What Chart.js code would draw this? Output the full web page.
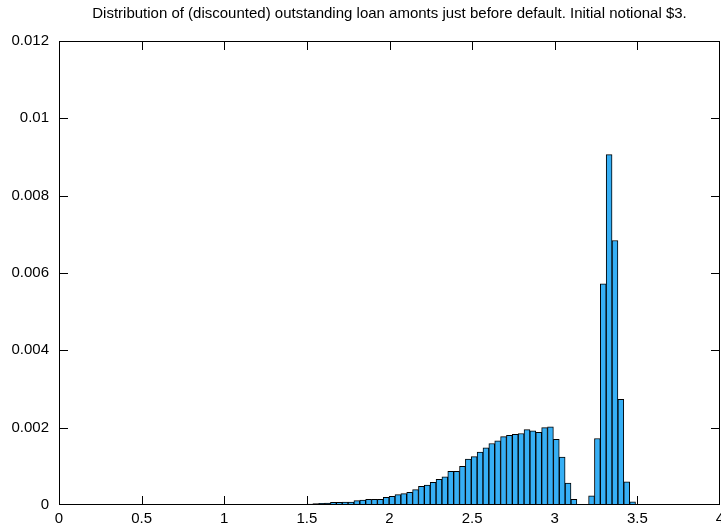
<!DOCTYPE html>
<html>
<head>
<meta charset="utf-8">
<script src="https://cdn.jsdelivr.net/npm/chart.js@4.4.1/dist/chart.umd.min.js"></script>
<style>
  html, body { margin: 0; padding: 0; background: #fff; overflow: hidden; }
  #wrap { width: 740px; height: 528px; }
</style>
</head>
<body>
<div id="wrap"><canvas id="histChart" width="740" height="528"></canvas></div>
<script>
// histogram bins: first bin centre and common width
const binStart = 0.915;
const binWidth = 0.0355;

// relative frequency per bin, left to right
const freq = [
    0.000003, 0.000003, 0.000004, 0.000004, 0.000005, 0.000005, 0.000006, 0.000006, 0.000007,
    0.000008, 0.00001, 0.000012, 0.000013, 0.000015, 0.000016, 0.000018, 0.00002, 0.000025,
    0.000034, 0.000043, 0.000052, 0.000069, 0.000069, 0.000078, 0.000078, 0.000112, 0.000129,
    0.000147, 0.000147, 0.000147, 0.000198, 0.000224, 0.000267, 0.000293, 0.000328, 0.000397,
    0.000483, 0.000517, 0.000586, 0.000664, 0.000729, 0.000871, 0.000871, 0.001, 0.00119,
    0.00125, 0.00137, 0.00148, 0.00159, 0.00166, 0.00177, 0.0018, 0.00183, 0.00185,
    0.00195, 0.00192, 0.00188, 0.002, 0.00202, 0.0017, 0.00124, 0.00057, 0.000147,
    0.000017, 0.00001, 0.00024, 0.00172, 0.00572, 0.00906, 0.00684, 0.00273, 0.0006,
    0.00008, 0.000008
];

const xTicks = [0, 0.5, 1, 1.5, 2, 2.5, 3, 3.5, 4];
const yTicks = [0, 0.002, 0.004, 0.006, 0.008, 0.01, 0.012];

const titleText = 'Distribution of (discounted) outstanding loan amonts just before default. Initial notional $3.';

const points = freq.map((v, i) => ({ x: binStart + i * binWidth, y: v }));

const font = { family: '"Liberation Sans", Arial, sans-serif', size: 15 };
const TICK_LEN = 9;

// gnuplot-style frame with inward ticks on all four sides
const frameTicks = {
    id: 'frameTicks',
    beforeDatasetsDraw(chart) {
        const { ctx, chartArea: a, scales: { x, y } } = chart;
        ctx.save();
        ctx.strokeStyle = '#000';
        ctx.lineWidth = 1;
        ctx.beginPath();
        xTicks.forEach(v => {
            const px = Math.min(Math.round(x.getPixelForValue(v)) + 0.5, a.right - 0.5);
            ctx.moveTo(px, a.bottom);
            ctx.lineTo(px, a.bottom - TICK_LEN);
            ctx.moveTo(px, a.top);
            ctx.lineTo(px, a.top + TICK_LEN);
        });
        yTicks.forEach(v => {
            const py = Math.min(Math.round(y.getPixelForValue(v)) + 0.5, a.bottom - 0.5);
            ctx.moveTo(a.left, py);
            ctx.lineTo(a.left + TICK_LEN, py);
            ctx.moveTo(a.right, py);
            ctx.lineTo(a.right - TICK_LEN, py);
        });
        ctx.stroke();
        ctx.restore();
    },
    afterDatasetsDraw(chart) {
        const { ctx, chartArea: a } = chart;
        ctx.save();
        ctx.strokeStyle = '#000';
        ctx.lineWidth = 1;
        ctx.strokeRect(a.left + 0.5, a.top + 0.5, a.right - a.left - 1, a.bottom - a.top - 1);
        ctx.restore();
    }
};

new Chart(document.getElementById('histChart'), {
    type: 'bar',
    data: {
        datasets: [{
            data: points,
            backgroundColor: '#36aff5',
            borderColor: '#000',
            borderWidth: { top: 1, left: 1, right: 1, bottom: 0 },
            borderSkipped: false,
            barPercentage: 1,
            categoryPercentage: 1
        }]
    },
    options: {
        responsive: false,
        animation: false,
        devicePixelRatio: 1,
        layout: { padding: { left: 0, right: 20, top: 0, bottom: 0 } },
        plugins: {
            legend: { display: false },
            tooltip: { enabled: false },
            title: {
                display: true,
                fullSize: false,
                text: titleText,
                color: '#000',
                font: { ...font, weight: 'normal' },
                padding: { top: 5, bottom: 18 }
            }
        },
        scales: {
            x: {
                type: 'linear',
                offset: false,
                min: 0,
                max: 4,
                afterBuildTicks: s => { s.ticks = xTicks.map(v => ({ value: v })); },
                afterFit: s => { s.height = 23; },
                grid: { display: false, drawTicks: false, offset: false },
                border: { display: false },
                ticks: {
                    color: '#000',
                    font,
                    padding: 5,
                    maxRotation: 0,
                    autoSkip: false,
                    callback: v => String(v)
                }
            },
            y: {
                min: 0,
                max: 0.012,
                afterBuildTicks: s => { s.ticks = yTicks.map(v => ({ value: v })); },
                afterFit: s => { s.width = 59; },
                grid: { display: false, drawTicks: false },
                border: { display: false },
                ticks: {
                    color: '#000',
                    font,
                    padding: 10,
                    callback: v => String(+v.toFixed(4))
                }
            }
        }
    },
    plugins: [frameTicks]
});
</script>
</body>
</html>
